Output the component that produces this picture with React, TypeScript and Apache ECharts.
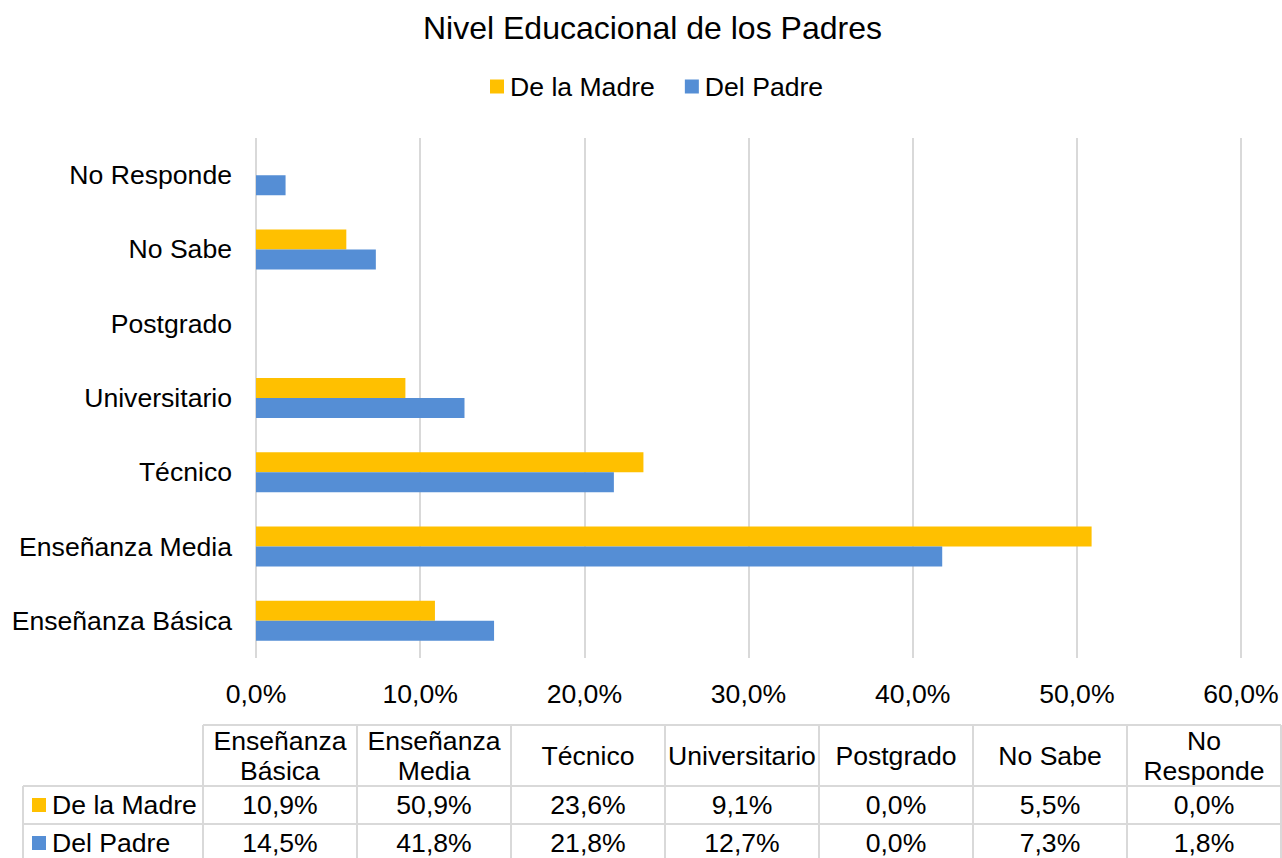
import React, { useEffect, useRef } from 'react';
import * as echarts from 'echarts';

const categories = ['Enseñanza Básica', 'Enseñanza Media', 'Técnico', 'Universitario', 'Postgrado', 'No Sabe', 'No Responde'];
const tableHeaders = ['Enseñanza\nBásica', 'Enseñanza\nMedia', 'Técnico', 'Universitario', 'Postgrado', 'No Sabe', 'No\nResponde'];
const seriesNames = ['De la Madre', 'Del Padre'];
const madre = [10.9, 50.9, 23.6, 9.1, 0.0, 5.5, 0.0];
const padre = [14.5, 41.8, 21.8, 12.7, 0.0, 7.3, 1.8];
const xMin = 0;
const xMax = 60;
const xInterval = 10;

const FONT = '"Liberation Sans", Arial, Helvetica, sans-serif';
const FS = 26.6;
const COLOR_MADRE = '#FFC000';
const COLOR_PADRE = '#558ED5';
const GRID_COLOR = '#d9d9d9';
const TEXT_COLOR = '#000000';

const fmt = (v: number) => v.toFixed(1).replace('.', ',') + '%';

function buildTable(): any[] {
  const els: any[] = [];
  const tableLeft = 23;
  const colStart = 203;
  const colW = 154;
  const nCols = tableHeaders.length;
  const right = colStart + colW * nCols;
  const headTop = 725;
  const headBottom = 786;
  const row1Bottom = 824;
  const row2Bottom = 862;
  const line = (x1: number, y1: number, x2: number, y2: number) => ({
    type: 'line',
    shape: { x1, y1, x2, y2 },
    style: { stroke: GRID_COLOR, lineWidth: 2 },
    silent: true,
  });
  els.push(line(colStart, headTop, right, headTop));
  els.push(line(tableLeft, headBottom, right, headBottom));
  els.push(line(tableLeft, row1Bottom, right, row1Bottom));
  els.push(line(tableLeft, row2Bottom, right, row2Bottom));
  els.push(line(tableLeft, headBottom, tableLeft, row2Bottom));
  for (let i = 0; i <= nCols; i++) {
    const x = colStart + colW * i;
    els.push(line(x, headTop, x, row2Bottom));
  }
  const txt = (text: string, x: number, y: number, align = 'center') => ({
    type: 'text',
    x,
    y,
    silent: true,
    style: {
      text,
      fontSize: FS,
      fontFamily: FONT,
      fill: TEXT_COLOR,
      align,
      verticalAlign: 'middle',
      lineHeight: 30,
    },
  });
  const rowsData = [madre, padre];
  const rowColors = [COLOR_MADRE, COLOR_PADRE];
  const rowCenters = [(headBottom + row1Bottom) / 2, (row1Bottom + row2Bottom) / 2];
  tableHeaders.forEach((h, i) => {
    els.push(txt(h, colStart + colW * i + colW / 2, (headTop + headBottom) / 2));
  });
  rowsData.forEach((vals, r) => {
    const cy = rowCenters[r];
    els.push({
      type: 'rect',
      shape: { x: 32, y: cy - 7, width: 14, height: 14 },
      style: { fill: rowColors[r] },
      silent: true,
    });
    els.push(txt(seriesNames[r], 52, cy, 'left'));
    vals.forEach((v, i) => {
      els.push(txt(fmt(v), colStart + colW * i + colW / 2, cy));
    });
  });
  return els;
}

export default function App() {
  const ref = useRef<HTMLDivElement>(null);
  useEffect(() => {
    document.body.style.margin = '0';
    if (!ref.current) return;
    const chart = echarts.init(ref.current, undefined, { renderer: 'svg' });
    chart.setOption({
      animation: false,
      backgroundColor: '#ffffff',
      textStyle: { fontFamily: FONT, color: TEXT_COLOR },
      title: {
        text: 'Nivel Educacional de los Padres',
        left: 423,
        top: 12,
        padding: 0,
        textStyle: { fontSize: 32, fontWeight: 'normal', color: TEXT_COLOR, fontFamily: FONT },
      },
      legend: {
        data: seriesNames,
        top: 68,
        left: 485,
        icon: 'rect',
        itemWidth: 14,
        itemHeight: 14,
        itemGap: 30,
        textStyle: { fontSize: FS, color: TEXT_COLOR, fontFamily: FONT, padding: [0, 0, 0, 1] },
      },
      grid: { left: 256, right: 41, top: 138, bottom: 200, containLabel: false },
      xAxis: {
        type: 'value',
        min: xMin,
        max: xMax,
        interval: xInterval,
        axisLine: { show: false },
        axisTick: { show: false },
        splitLine: { show: true, lineStyle: { color: GRID_COLOR, width: 2 } },
        axisLabel: {
          formatter: (v: number) => fmt(v),
          fontSize: FS,
          color: TEXT_COLOR,
          fontFamily: FONT,
          margin: 22,
        },
      },
      yAxis: {
        type: 'category',
        data: categories,
        axisLine: { show: false },
        axisTick: { show: false },
        axisLabel: { fontSize: FS, color: TEXT_COLOR, fontFamily: FONT, margin: 24 },
      },
      series: [
        {
          name: seriesNames[0],
          type: 'bar',
          data: madre,
          barWidth: 20,
          barGap: '0%',
          itemStyle: { color: COLOR_MADRE },
        },
        {
          name: seriesNames[1],
          type: 'bar',
          data: padre,
          barWidth: 20,
          barGap: '0%',
          itemStyle: { color: COLOR_PADRE },
        },
      ],
      graphic: buildTable(),
    });
    return () => chart.dispose();
  }, []);
  return <div ref={ref} style={{ position: 'absolute', left: 0, top: 0, width: 1282, height: 858 }} />;
}
